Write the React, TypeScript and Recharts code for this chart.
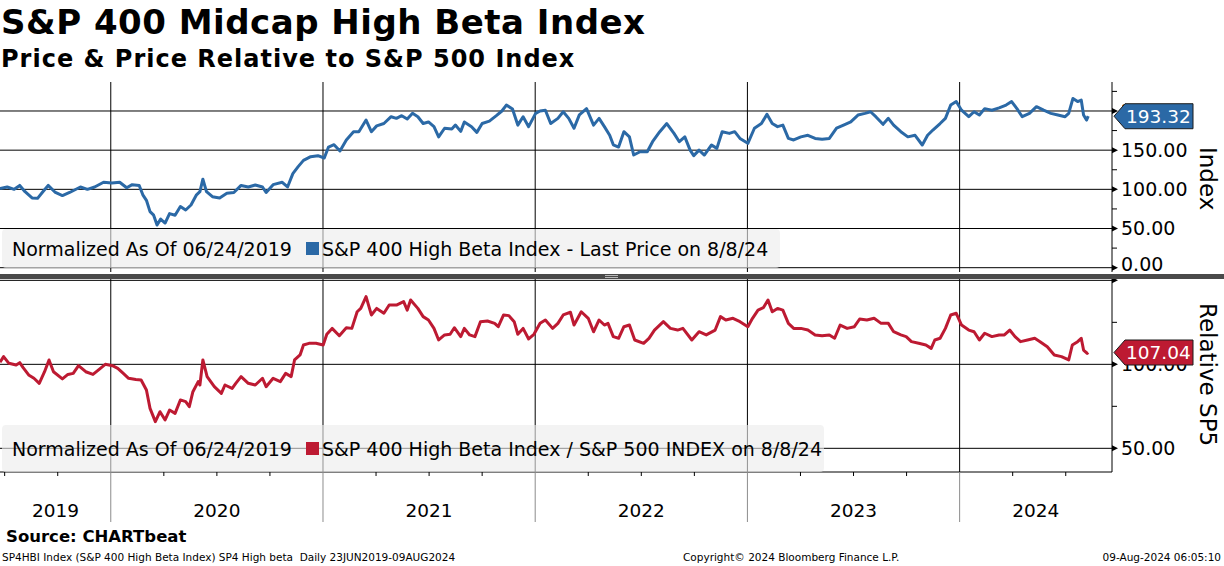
import React from "react";
import { Line, LineChart, ReferenceLine, XAxis, YAxis } from "recharts";

const FONT = '"DejaVu Sans", Verdana, sans-serif';
const BLUE = "#2b69a6";
const RED = "#bd1a32";

// decimal years (23 Jun 2019 .. 8 Aug 2024)
const priceT = [
  2019.478, 2019.512, 2019.545, 2019.571, 2019.596, 2019.629, 2019.655, 2019.68, 2019.705, 2019.739, 2019.772, 2019.806, 2019.857, 2019.89, 2019.924, 2019.966,
  2020.005, 2020.042, 2020.075, 2020.101, 2020.134, 2020.151, 2020.168, 2020.185, 2020.202, 2020.218, 2020.235, 2020.256, 2020.277, 2020.303, 2020.328, 2020.353, 2020.378, 2020.404, 2020.42, 2020.434, 2020.451, 2020.479, 2020.513, 2020.547, 2020.58, 2020.614, 2020.648, 2020.681, 2020.715, 2020.732, 2020.765, 2020.808, 2020.833, 2020.858, 2020.883, 2020.908, 2020.942, 2020.976,
  2021.006, 2021.026, 2021.052, 2021.08, 2021.11, 2021.144, 2021.169, 2021.203, 2021.228, 2021.253, 2021.287, 2021.321, 2021.346, 2021.371, 2021.397, 2021.422, 2021.447, 2021.472, 2021.497, 2021.523, 2021.545, 2021.573, 2021.607, 2021.624, 2021.649, 2021.666, 2021.7, 2021.725, 2021.75, 2021.784, 2021.817, 2021.843, 2021.864, 2021.893, 2021.918, 2021.943, 2021.969,
  2022.002, 2022.023, 2022.048, 2022.073, 2022.107, 2022.132, 2022.158, 2022.183, 2022.208, 2022.242, 2022.275, 2022.301, 2022.326, 2022.351, 2022.368, 2022.393, 2022.418, 2022.444, 2022.464, 2022.494, 2022.528, 2022.553, 2022.587, 2022.62, 2022.654, 2022.679, 2022.705, 2022.73, 2022.747, 2022.772, 2022.797, 2022.831, 2022.856, 2022.881, 2022.915, 2022.94, 2022.965,
  2023.002, 2023.033, 2023.066, 2023.092, 2023.117, 2023.142, 2023.167, 2023.193, 2023.218, 2023.252, 2023.285, 2023.319, 2023.352, 2023.386, 2023.42, 2023.453, 2023.487, 2023.521, 2023.554, 2023.58, 2023.605, 2023.639, 2023.664, 2023.689, 2023.723, 2023.756, 2023.79, 2023.824, 2023.849, 2023.874, 2023.908, 2023.933, 2023.958, 2023.984,
  2024.009, 2024.043, 2024.068, 2024.093, 2024.118, 2024.152, 2024.186, 2024.219, 2024.245, 2024.27, 2024.295, 2024.329, 2024.362, 2024.396, 2024.43, 2024.463, 2024.497, 2024.514, 2024.534, 2024.556, 2024.573, 2024.584, 2024.598, 2024.606,
];
const priceValues = [
  101, 103, 100, 105, 97, 89, 88.5, 97, 105, 96, 92, 96, 103, 100, 103, 109,
  108, 109, 102, 106, 105, 93, 86, 71.5, 67, 54.5, 62, 57, 69, 67, 78, 73.6, 80, 93, 97, 113, 97, 90.6, 89, 95, 96, 105, 103, 105.5, 103, 96, 106, 109, 103, 120, 129, 137, 141.7, 143,
  140, 154, 157, 149, 163, 173.6, 173.6, 188.4, 173.6, 181, 184, 192.7, 190.6, 194, 189.7, 197, 192.7, 184, 186, 180, 167, 178, 177, 182, 174, 186, 180, 172.7, 184, 187, 194, 200, 207.6, 202.5, 182, 192.7, 180,
  197, 200, 201, 184, 190.6, 199, 190.6, 178, 195, 203, 182, 190.6, 180, 169, 156.8, 154, 173.6, 167, 143.8, 148, 148, 160.8, 173.6, 184, 171.4, 160.8, 167, 150, 143, 150, 143.8, 156.6, 152.3, 173.6, 171.4, 173.6, 165,
  158.7, 178, 184, 195.7, 184, 180, 182, 165, 163, 167, 169, 165, 164, 165, 178, 182, 186, 194.8, 197, 199, 192.7, 183, 190.6, 182, 173.6, 167, 169, 156.6, 169, 175.7, 184, 190.6, 207.6, 212,
  201, 192.7, 199, 194.8, 203, 201, 204, 207.6, 212, 203, 192.7, 197, 205.5, 201, 197, 194.8, 192.7, 197, 216, 212, 214, 194.8, 188.4, 193.32,
];

const relT = [
  2019.478, 2019.495, 2019.52, 2019.554, 2019.571, 2019.587, 2019.613, 2019.638, 2019.663, 2019.688, 2019.709, 2019.73, 2019.772, 2019.798, 2019.823, 2019.848, 2019.882, 2019.916, 2019.941, 2019.974,
  2020.008, 2020.033, 2020.059, 2020.084, 2020.118, 2020.143, 2020.168, 2020.185, 2020.21, 2020.232, 2020.256, 2020.277, 2020.303, 2020.328, 2020.353, 2020.37, 2020.387, 2020.412, 2020.42, 2020.434, 2020.454, 2020.488, 2020.521, 2020.538, 2020.572, 2020.589, 2020.614, 2020.648, 2020.681, 2020.715, 2020.732, 2020.765, 2020.799, 2020.824, 2020.85, 2020.866, 2020.892, 2020.908, 2020.934, 2020.967,
  2021.001, 2021.018, 2021.043, 2021.077, 2021.11, 2021.136, 2021.161, 2021.178, 2021.203, 2021.228, 2021.253, 2021.287, 2021.312, 2021.346, 2021.38, 2021.397, 2021.413, 2021.447, 2021.472, 2021.497, 2021.523, 2021.545, 2021.573, 2021.599, 2021.619, 2021.649, 2021.666, 2021.691, 2021.716, 2021.742, 2021.775, 2021.809, 2021.826, 2021.851, 2021.876, 2021.901, 2021.918, 2021.943, 2021.969, 2021.994,
  2022.023, 2022.048, 2022.082, 2022.107, 2022.132, 2022.166, 2022.183, 2022.217, 2022.25, 2022.275, 2022.301, 2022.326, 2022.343, 2022.368, 2022.393, 2022.418, 2022.444, 2022.469, 2022.511, 2022.536, 2022.562, 2022.604, 2022.637, 2022.671, 2022.696, 2022.738, 2022.772, 2022.806, 2022.848, 2022.873, 2022.898, 2022.932, 2022.965,
  2023.002, 2023.024, 2023.05, 2023.075, 2023.097, 2023.117, 2023.142, 2023.167, 2023.193, 2023.218, 2023.252, 2023.285, 2023.319, 2023.352, 2023.386, 2023.411, 2023.437, 2023.47, 2023.504, 2023.529, 2023.563, 2023.597, 2023.63, 2023.664, 2023.689, 2023.723, 2023.748, 2023.773, 2023.807, 2023.841, 2023.866, 2023.883, 2023.908, 2023.933, 2023.958, 2023.984,
  2024.009, 2024.043, 2024.068, 2024.093, 2024.118, 2024.152, 2024.186, 2024.211, 2024.236, 2024.261, 2024.287, 2024.32, 2024.354, 2024.379, 2024.413, 2024.446, 2024.48, 2024.514, 2024.531, 2024.556, 2024.573, 2024.584, 2024.601, 2024.606,
];
const relValues = [
  101.2, 104.6, 100.6, 99.6, 101, 98, 93.7, 91.7, 88.7, 95.6, 102.6, 95.6, 91.3, 94, 94.6, 99.2, 95.6, 94, 96.6, 100,
  99.2, 97.6, 94.6, 91.7, 91, 90.7, 84.7, 73.8, 65.9, 71.8, 66.9, 72.8, 70.8, 78.8, 77.8, 74.8, 83.7, 89.7, 87.7, 102.6, 92.7, 86.7, 82.7, 87.7, 85.7, 88.7, 92.7, 88.7, 87.7, 91.7, 86.7, 91.7, 89.7, 94.6, 92.7, 102.6, 105.6, 111.5, 112.5, 112.5,
  111.5, 117.9, 121.4, 117, 121.8, 121.4, 131.3, 133.3, 140.3, 129.4, 133.3, 130.4, 135.3, 135.3, 137.3, 132.3, 138.3, 133.3, 128.4, 126.4, 121.4, 114.5, 117.5, 117.9, 121.8, 116.5, 121.4, 117.5, 116.5, 125.4, 125.8, 124.4, 122.4, 129.4, 129, 125.4, 117.9, 121.4, 115.1, 117.9,
  124.4, 126.4, 121.4, 124.4, 129.4, 131, 123.4, 131.3, 127.4, 119.4, 126.4, 123.4, 124.4, 116.5, 115.5, 122.4, 123.4, 114.5, 112.5, 115.5, 120.4, 125.4, 121.4, 120.4, 121.4, 114.5, 119.4, 117.5, 120.4, 128.4, 126.4, 127.4, 125.4,
  122.4, 127.4, 132.3, 133.7, 138.3, 131.3, 133.3, 132.3, 124.4, 121.4, 121.4, 120.4, 117.5, 117, 117.5, 115.5, 123.4, 121.4, 122.4, 127, 126.4, 127.4, 124.4, 124.4, 119.4, 117.5, 116.5, 113.5, 112.5, 111.5, 109.5, 114.5, 115.5, 121.4, 129.4, 130.4,
  123.4, 120.4, 119.4, 114.5, 118.5, 116.5, 117.5, 117.5, 120.4, 116.5, 113.5, 114.5, 115.5, 113.5, 110.5, 105.6, 104.6, 102.6, 111.5, 113.5, 115.5, 108.5, 106.5, 107.04,
];

const X_DOMAIN = [2019.478, 2024.718];
const PRICE_DOMAIN = [-5.5, 237];
const REL_DOMAIN = [35.9, 150.8];

const priceTicks = [0, 25, 50, 75, 100, 125, 150, 175, 200, 225];
const priceGrid = [0, 50, 100, 150, 200];
const relTicks = [50, 75, 100, 125, 150];
const relGrid = [50, 100, 150];
const relLabeled = [50, 100];
const yearLines = [2020, 2021, 2022, 2023, 2024];
const quarterTicks = [
  2019.5, 2019.75, 2020, 2020.25, 2020.5, 2020.75, 2021, 2021.25, 2021.5, 2021.75, 2022, 2022.25,
  2022.5, 2022.75, 2023, 2023.25, 2023.5, 2023.75, 2024, 2024.25, 2024.5,
];
const yearLabels = ["2019", "2020", "2021", "2022", "2023", "2024"];
const yearLabelAt = [2019.74, 2020.5, 2021.5, 2022.5, 2023.5, 2024.359];

const priceData = priceT.map((t, i) => ({ t, v: priceValues[i] }));
const relData = relT.map((t, i) => ({ t, v: relValues[i] }));
const xTicks = Array.from(new Set([...quarterTicks, ...yearLabelAt])).sort((a, b) => a - b);

const near = (list: number[], v: number) => list.findIndex((q) => Math.abs(q - v) < 0.001);

// lowest label of the top panel sits a little higher so the separator does not eat it
function makeYTick(labeled: number[], liftAt: number | null) {
  return function YTick(props: any) {
    const { x, y, payload } = props;
    const v = payload.value;
    if (v % 50 !== 0) {
      return <line x1={x} x2={x + 5} y1={y} y2={y} stroke="#000" />;
    }
    const ty = v === liftAt ? y - 4 : y;
    return (
      <g>
        <polygon points={`${x},${y - 3} ${x + 6},${y} ${x},${y + 3}`} fill="#000" />
        {labeled.includes(v) && (
          <text x={x + 9} y={ty} dy="0.36em" fontSize={19} fontFamily={FONT} fill="#000">
            {v.toFixed(2)}
          </text>
        )}
      </g>
    );
  };
}

function XTick(props: any) {
  const { x, y, payload } = props;
  const v = payload.value;
  const qi = near(quarterTicks, v);
  const li = near(yearLabelAt, v);
  const isYear = qi >= 0 && Number.isInteger(quarterTicks[qi]);
  return (
    <g>
      {isYear && <line x1={x} x2={x} y1={y} y2={y + 50} stroke="#8c8c8c" />}
      {qi >= 0 && !isYear && <line x1={x} x2={x} y1={y} y2={y + 4} stroke="#000" />}
      {li >= 0 && (
        <text x={x} y={y + 38} dy="0.36em" textAnchor="middle" fontSize={18.5} fontFamily={FONT} fill="#000">
          {yearLabels[li]}
        </text>
      )}
    </g>
  );
}

function ValueTag(props: any) {
  const { viewBox, value, color } = props;
  const left = viewBox.x + viewBox.width + 2;
  const y = viewBox.y;
  const h = 25;
  const w = 79;
  const n = 11;
  const pts = `${left},${y} ${left + n},${y - h / 2} ${left + w},${y - h / 2} ${left + w},${y + h / 2} ${left + n},${y + h / 2}`;
  return (
    <g>
      <polygon points={pts} fill={color} stroke="#1b1b1b" strokeWidth={1} />
      <text x={left + n + 1} y={y} dy="0.36em" fontSize={18.5} fontFamily={FONT} fill="#fff">
        {value.toFixed(2)}
      </text>
    </g>
  );
}

const PriceTick = makeYTick(priceGrid, 0);
const RelTick = makeYTick(relLabeled, null);

const abs = (s: React.CSSProperties): React.CSSProperties => ({ position: "absolute", whiteSpace: "nowrap", ...s });

// a transparent chart with the same scales, laid over the panel, so the last-value tag sits above the axis labels
function TagLayer({ data, domain, value, color, height, margin }: any) {
  return (
    <LineChart width={1224} height={height} data={data} margin={{ ...margin, right: 112 }}>
      <XAxis type="number" dataKey="t" domain={X_DOMAIN} hide allowDataOverflow />
      <YAxis domain={domain} hide allowDataOverflow />
      <ReferenceLine y={value} stroke="none" label={<ValueTag value={value} color={color} />} />
    </LineChart>
  );
}

export default function App() {
  const lastPrice = priceValues[priceValues.length - 1];
  const lastRel = relValues[relValues.length - 1];
  const topMargin = { top: 10, right: 0, bottom: 3, left: 0 };
  const botMargin = { top: 9, right: 0, bottom: 51, left: 0 };
  return (
    <div style={{ position: "absolute", left: 0, top: 0, width: 1224, height: 566, background: "#fff", fontFamily: FONT, color: "#000", overflow: "hidden" }}>
      <div style={abs({ left: 1, top: 3, fontSize: 34, fontWeight: "bold", letterSpacing: 0.5, lineHeight: "38px" })}>
        S&amp;P 400 Midcap High Beta Index
      </div>
      <div style={abs({ left: 1, top: 45, fontSize: 24, fontWeight: "bold", letterSpacing: 1, lineHeight: "28px" })}>
        Price &amp; Price Relative to S&amp;P 500 Index
      </div>

      <div style={abs({ left: 0, top: 72 })}>
        <LineChart width={1224} height={203} data={priceData} margin={topMargin}>
          <XAxis type="number" dataKey="t" domain={X_DOMAIN} hide allowDataOverflow />
          <YAxis
            orientation="right"
            width={112}
            domain={PRICE_DOMAIN}
            ticks={priceTicks}
            interval={0}
            allowDataOverflow
            axisLine={{ stroke: "#000" }}
            tickLine={false}
            tickSize={0}
            tickMargin={0}
            tick={<PriceTick />}
          />
          {priceGrid.map((v) => (
            <ReferenceLine key={"h" + v} y={v} stroke="#000" />
          ))}
          {yearLines.map((v) => (
            <ReferenceLine key={"v" + v} x={v} stroke="#000" />
          ))}
          <Line type="linear" dataKey="v" stroke={BLUE} strokeWidth={3} strokeLinejoin="round" dot={false} isAnimationActive={false} />
        </LineChart>
      </div>
      <div style={abs({ left: 0, top: 72 })}>
        <TagLayer data={priceData} domain={PRICE_DOMAIN} value={lastPrice} color={BLUE} height={203} margin={topMargin} />
      </div>

      <div style={abs({ left: 0, top: 270 })}>
        <LineChart width={1224} height={253} data={relData} margin={{ top: 9, right: 0, bottom: 0, left: 0 }}>
          <XAxis
            type="number"
            dataKey="t"
            domain={X_DOMAIN}
            allowDataOverflow
            ticks={xTicks}
            interval={0}
            height={51}
            axisLine={{ stroke: "#000" }}
            tickLine={false}
            tickSize={0}
            tickMargin={0}
            tick={<XTick />}
          />
          <YAxis
            orientation="right"
            width={112}
            domain={REL_DOMAIN}
            ticks={relTicks}
            interval={0}
            allowDataOverflow
            axisLine={{ stroke: "#000" }}
            tickLine={false}
            tickSize={0}
            tickMargin={0}
            tick={<RelTick />}
          />
          {relGrid.map((v) => (
            <ReferenceLine key={"h" + v} y={v} stroke="#000" />
          ))}
          {yearLines.map((v) => (
            <ReferenceLine key={"v" + v} x={v} stroke="#000" />
          ))}
          <Line type="linear" dataKey="v" stroke={RED} strokeWidth={3} strokeLinejoin="round" dot={false} isAnimationActive={false} />
        </LineChart>
      </div>
      <div style={abs({ left: 0, top: 270 })}>
        <TagLayer data={relData} domain={REL_DOMAIN} value={lastRel} color={RED} height={253} margin={botMargin} />
      </div>

      <div style={abs({ left: 0, top: 274, width: 1224, height: 5, background: "#4a4a4a" })} />
      <div style={abs({ left: 605, top: 275, width: 13, height: 1, background: "#b8b8b8" })} />
      <div style={abs({ left: 605, top: 277, width: 13, height: 1, background: "#b8b8b8" })} />

      <div
        style={abs({
          left: 2, top: 229, width: 778, height: 39, borderRadius: 4, background: "rgba(235,235,235,0.62)",
          display: "flex", alignItems: "center", fontSize: 19, paddingLeft: 10, boxSizing: "border-box",
        })}
      >
        <span>Normalized As Of 06/24/2019</span>
        <span style={{ display: "inline-block", width: 13, height: 13, background: BLUE, marginLeft: 14, marginRight: 3 }} />
        <span>S&amp;P 400 High Beta Index - Last Price on 8/8/24</span>
      </div>
      <div
        style={abs({
          left: 2, top: 425, width: 822, height: 47, borderRadius: 4, background: "rgba(235,235,235,0.62)",
          display: "flex", alignItems: "center", fontSize: 19, paddingLeft: 10, boxSizing: "border-box",
        })}
      >
        <span>Normalized As Of 06/24/2019</span>
        <span style={{ display: "inline-block", width: 13, height: 13, background: RED, marginLeft: 14, marginRight: 3 }} />
        <span>S&amp;P 400 High Beta Index / S&amp;P 500 INDEX on 8/8/24</span>
      </div>

      <div style={abs({ left: 1196, top: 147, fontSize: 23, lineHeight: "24px", writingMode: "vertical-rl" })}>Index</div>
      <div style={abs({ left: 1196, top: 303, fontSize: 23, lineHeight: "24px", writingMode: "vertical-rl" })}>Relative SP5</div>

      <div style={abs({ left: 6, top: 527, fontSize: 16.5, fontWeight: "bold", lineHeight: "20px" })}>Source: CHARTbeat</div>
      <div style={abs({ left: 2, top: 551, fontSize: 10.5, lineHeight: "12px" })}>
        SP4HBI Index (S&amp;P 400 High Beta Index) SP4 High beta&nbsp; Daily 23JUN2019-09AUG2024
      </div>
      <div style={abs({ left: 683, top: 551, fontSize: 10.5, lineHeight: "12px" })}>Copyright© 2024 Bloomberg Finance L.P.</div>
      <div style={abs({ right: 3, top: 551, fontSize: 10.5, lineHeight: "12px" })}>09-Aug-2024 06:05:10</div>
    </div>
  );
}
